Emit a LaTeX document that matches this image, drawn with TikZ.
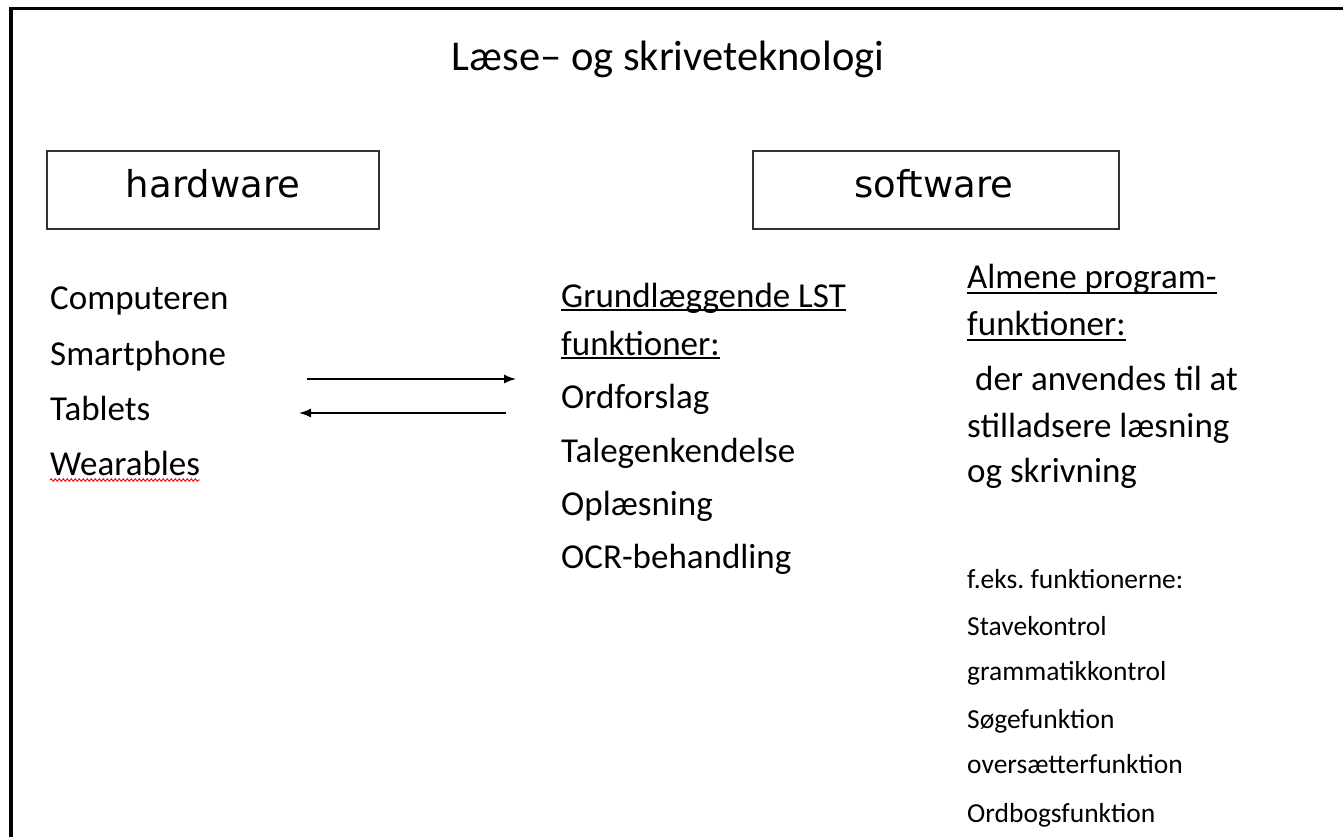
\documentclass[tikz,border=0pt]{standalone}
\usepackage{fontspec}
\setmainfont{Carlito}
\newfontfamily\boxfont{DejaVu Sans}
\usetikzlibrary{arrows.meta,decorations.pathmorphing}
\frenchspacing
\begin{document}
\begin{tikzpicture}[x=1pt,y=-1pt,
  txt/.style={anchor=base west,inner sep=0pt,font=\fontsize{35}{40}\selectfont},
  smalltxt/.style={anchor=base west,inner sep=0pt,font=\fontsize{27.5}{32}\selectfont},
  titletxt/.style={anchor=base,inner sep=0pt,font=\fontsize{42.5}{48}\selectfont},
  boxtxt/.style={anchor=base,inner sep=0pt,font=\boxfont\fontsize{37}{44}\selectfont},
  catbox/.style={draw=black!80,line width=1.5pt,minimum width=332pt,minimum height=78pt,inner sep=0pt},
  uline/.style={line width=1.5pt},
  arr/.style={line width=1.5pt,-{Latex[length=12pt,width=9pt]}}
]
\useasboundingbox (0,0) rectangle (1343,837);
% outer frame (only top and left visible)
\draw[line width=3.5pt,line join=miter] (11,837) -- (11,8.5) -- (1343,8.5);

% title
\node[titletxt] (title) at (668,71) {Læse– og skriveteknologi};

% category boxes
\node[catbox] (hw) at (213,190) {};
\node[boxtxt] (hwt) at (213,197) {hardware};
\node[catbox,minimum width=366pt] (sw) at (936,190) {};
\node[boxtxt] (swt) at (934,197) {software};

% hardware list
\node[txt] (h1) at (50,309) {Computeren};
\node[txt] (h2) at (50,365) {Smartphone};
\node[txt] (h3) at (50,420) {Tablets};
\node[txt] (h4) at (50,475) {Wearables};
\draw[red,line width=0.9pt,decorate,decoration={snake,amplitude=1.3pt,segment length=4pt}]
  ([yshift=-5pt]h4.base west) -- ([yshift=-5pt]h4.base east);

% basic LST functions
\node[txt] (g1) at (561,307) {Grundlæggende LST};
\node[txt] (g2) at (561,355) {funktioner:};
\draw[uline] ([yshift=-3pt]g1.base west) -- ([yshift=-3pt]g1.base east);
\draw[uline] ([yshift=-3pt]g2.base west) -- ([yshift=-3pt]g2.base east);
\node[txt] (g3) at (561,408) {Ordforslag};
\node[txt] (g4) at (561,462) {Talegenkendelse};
\node[txt] (g5) at (561,515) {Oplæsning};
\node[txt] (g6) at (561,568) {OCR-behandling};

% general program functions
\node[txt] (a1) at (967,288) {Almene program-};
\node[txt] (a2) at (967,335) {funktioner:};
\draw[uline] ([yshift=-5pt]a1.base west) -- ([yshift=-5pt]a1.base east);
\draw[uline] ([yshift=-5pt]a2.base west) -- ([yshift=-5pt]a2.base east);
\node[txt] (a3) at (967,390) {\ der anvendes til at};
\node[txt] (a4) at (967,437) {stilladsere læsning};
\node[txt] (a5) at (967,482) {og skrivning};

% examples
\node[smalltxt] (e1) at (967,588) {f.eks. funktionerne:};
\node[smalltxt] (e2) at (967,635) {Stavekontrol};
\node[smalltxt] (e3) at (967,680) {grammatikkontrol};
\node[smalltxt] (e4) at (967,728) {Søgefunktion};
\node[smalltxt] (e5) at (967,773) {oversætterfunktion};
\node[smalltxt] (e6) at (967,822) {Ordbogsfunktion};

% arrows
\coordinate (r1) at (307,379);
\coordinate (r2) at (516,379);
\coordinate (l1) at (506,413);
\coordinate (l2) at (299,413);
\draw[arr] (r1) -- (r2);
\draw[arr] (l1) -- (l2);
\end{tikzpicture}
\end{document}
